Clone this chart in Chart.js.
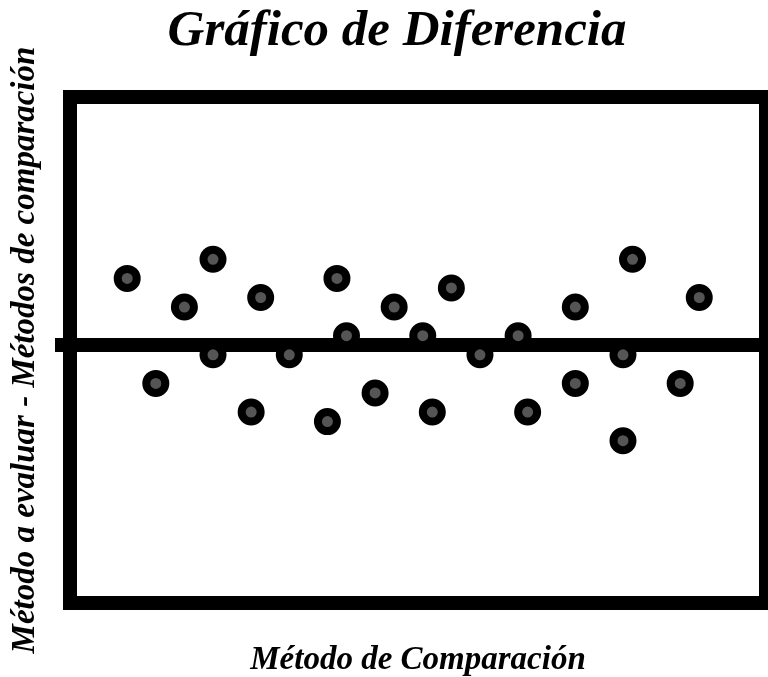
<!DOCTYPE html>
<html>
<head>
<meta charset="utf-8">
<script src="https://cdn.jsdelivr.net/npm/chart.js@4"></script>
<style>
  html, body { margin: 0; padding: 0; background: #fff; }
  #wrap { width: 768px; height: 677px; }
</style>
</head>
<body>
<div id="wrap"><canvas id="myChart"></canvas></div>
<script>
// values (x = position along the comparison method, y = difference)
const xValues = [6, 9, 12, 15, 15, 19, 20, 23, 27, 28, 29, 32, 34, 37, 38, 40, 43, 47, 48, 53, 53, 58, 58, 59, 64, 66];
const yValues = [7, -4, 4, 9, -1, -7, 5, -1, -8, 7, 1, -5, 4, 1, -7, 6, -1, 1, -7, 4, -4, -1, -10, 9, -4, 5];
const xRange = [0, 73];
const yRange = [-27, 26];

const titleText = 'Gráfico de Diferencia';
const xTitle = 'Método de Comparación';
const yTitle = 'Método a evaluar - Métodos de comparación';

const serif = "'Liberation Serif', 'Times New Roman', serif";

const points = xValues.map((x, i) => ({ x: x, y: yValues[i] }));

// thick black box round the plot area
const frame = {
  id: 'frame',
  beforeDatasetsDraw: (chart) => {
    const { ctx, chartArea } = chart;
    ctx.save();
    ctx.strokeStyle = '#000';
    ctx.lineWidth = 14;
    ctx.strokeRect(chartArea.left, chartArea.top, chartArea.right - chartArea.left, chartArea.bottom - chartArea.top);
    ctx.restore();
  }
};

const ctx = document.getElementById('myChart');

new Chart(ctx, {
  type: 'scatter',
  data: {
    datasets: [{
      data: points,
      pointRadius: 9.5,
      pointHoverRadius: 9.5,
      borderWidth: 8,
      borderColor: '#000',
      backgroundColor: '#555'
    }]
  },
  options: {
    responsive: true,
    maintainAspectRatio: false,
    animation: false,
    // left padding pushes the main title right, the y title pulls itself back with a negative pad
    layout: { autoPadding: false, padding: { top: 0, right: 2, bottom: 0, left: 28 } },
    plugins: {
      legend: { display: false },
      tooltip: { enabled: false },
      title: {
        display: true,
        text: titleText,
        color: '#000',
        font: { family: serif, size: 51, weight: 'bold', style: 'italic', lineHeight: 1 },
        padding: { top: 6.5, bottom: 39.5 }
      }
    },
    scales: {
      x: {
        type: 'linear',
        min: xRange[0],
        max: xRange[1],
        ticks: { display: false },
        grid: { display: false, drawTicks: false },
        border: { display: false },
        title: {
          display: true,
          text: xTitle,
          color: '#000',
          font: { family: serif, size: 33, weight: 'bold', style: 'italic', lineHeight: 1 },
          padding: { top: 41, bottom: 0 }
        }
      },
      y: {
        type: 'linear',
        min: yRange[0],
        max: yRange[1],
        ticks: { display: false, stepSize: 1 },
        grid: {
          drawTicks: true,
          tickLength: 15,
          lineWidth: 14,
          color: (c) => (c.tick && c.tick.value === 0 ? '#000' : 'rgba(0,0,0,0)')
        },
        border: { display: false },
        title: {
          display: true,
          text: yTitle,
          color: '#000',
          font: { family: serif, size: 33, weight: 'bold', style: 'italic', lineHeight: 1 },
          padding: { top: -19.5, bottom: 13.5 }
        }
      }
    }
  },
  plugins: [frame]
});
</script>
</body>
</html>
